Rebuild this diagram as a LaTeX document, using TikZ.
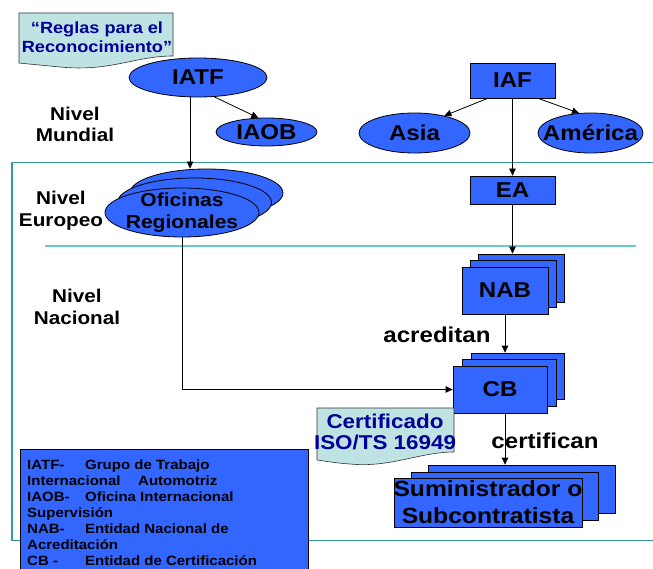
\documentclass[tikz,border=0pt]{standalone}
\usepackage{fontspec}
\setmainfont[FakeStretch=1.12]{Liberation Sans}
\usetikzlibrary{shapes.geometric,arrows.meta,calc}
\definecolor{pblue}{HTML}{3366FF}
\definecolor{plight}{HTML}{BFE3E3}
\definecolor{pnavy}{HTML}{000099}
\definecolor{tealA}{HTML}{339999}
\definecolor{tealB}{HTML}{66CCCC}
\tikzset{
  shp/.style={draw=black, line width=0.8pt, fill=pblue, inner sep=0pt},
  ell/.style={shp, shape=ellipse},
  rbox/.style={shp, shape=rectangle},
  lbl/.style={font=\bfseries\fontsize{21.5}{23}\selectfont, text=black, align=center},
  lvl/.style={font=\bfseries\fontsize{18.5}{21.5}\selectfont, align=center},
  doc/.style={draw=black!80, line width=0.6pt, fill=plight},
  doctext/.style={font=\bfseries\fontsize{16.2}{19}\selectfont, text=pnavy, align=center},
  leg/.style={font=\bfseries\fontsize{13.4}{16}\selectfont, anchor=base west, inner sep=0pt},
  arr/.style={-{Triangle[length=7pt,width=6.5pt]}, line width=0.8pt},
}
\begin{document}
\begin{tikzpicture}[x=1pt,y=-1pt]
\clip (0,0) rectangle (653,569);
\fill[white] (0,0) rectangle (653,569);
% frame and level lines
\draw[tealA, line width=1.1pt] (653,162.5) -- (12,162.5) -- (12,540.5) -- (653,540.5);
\draw[tealB, line width=2pt] (45,246.5) -- (636,246.5);
% level labels
\node[lvl] (nm) at (75,124.5) {Nivel\\Mundial};
\node[lvl] (ne) at (61,210.5) {Nivel\\Europeo};
\node[lvl] (nn) at (77,307) {Nivel\\Nacional};
% Reglas document
\path[doc] (19,13) -- (173,13) -- (173,56) .. controls (135,56) and (110,72) .. (60,67) .. controls (40,65) and (28,64) .. (19,63) -- cycle;
\node[doctext] (reglas) at (97,37) {“Reglas para el\\Reconocimiento”};
% IATF, IAOB
\node[ell, minimum width=138pt, minimum height=39pt, label={[lbl]center:IATF}] (iatf) at (198,77.5) {};
\node[ell, minimum width=101pt, minimum height=28pt, label={[lbl]center:IAOB}] (iaob) at (266.5,132) {};
% IAF, Asia, America, EA
\node[rbox, minimum width=85pt, minimum height=35pt, label={[lbl]center:IAF}] (iaf) at (512.5,80.5) {};
\node[ell, minimum width=111pt, minimum height=40pt, label={[lbl]center:Asia}] (asia) at (414.5,133) {};
\node[ell, minimum width=105pt, minimum height=40pt, label={[lbl]center:América}] (amer) at (590.5,133) {};
\node[rbox, minimum width=85pt, minimum height=28pt, label={[lbl]center:EA}] (ea) at (512.5,190) {};
% Oficinas stack
\node[ell, minimum width=153pt, minimum height=48pt] (ofi3) at (206.5,193) {};
\node[ell, minimum width=154pt, minimum height=49pt] (ofi2) at (194.5,202.5) {};
\node[ell, minimum width=154pt, minimum height=49pt, label={[lbl, font=\bfseries\fontsize{18.8}{22}\selectfont]center:Oficinas\\Regionales}] (ofi) at (182,212.5) {};
% NAB stack
\node[rbox, minimum width=86pt, minimum height=48pt] (nab3) at (521,278) {};
\node[rbox, minimum width=86pt, minimum height=47pt] (nab2) at (513,284.25) {};
\node[rbox, minimum width=86pt, minimum height=47pt, label={[lbl]center:NAB}] (nab) at (505,290.5) {};
% CB stack
\node[rbox, minimum width=93pt, minimum height=46pt] (cb3) at (517.5,376) {};
\node[rbox, minimum width=94pt, minimum height=47pt] (cb2) at (509,383) {};
\node[rbox, minimum width=94pt, minimum height=47pt, label={[lbl]center:CB}] (cb) at (500,389.5) {};
% Certificado document
\path[doc] (317,408) -- (454,408) -- (454,452) .. controls (420,452) and (390,468) .. (350,464) .. controls (335,463) and (325,461) .. (317,460) -- cycle;
\node[doctext, font=\bfseries\fontsize{20}{21}\selectfont] (cert) at (385,432) {Certificado\\ISO/TS 16949};
% Suministrador stack
\node[rbox, minimum width=187pt, minimum height=48pt] (sum3) at (521.5,489) {};
\node[rbox, minimum width=187pt, minimum height=48pt] (sum2) at (505,496) {};
\node[rbox, minimum width=188pt, minimum height=49pt, label={[lbl, font=\bfseries\fontsize{22}{27}\selectfont]center:Suministrador o\\Subcontratista}] (sum) at (488,502.5) {};
% connector labels
\node[lbl] (acr) at (437,335) {acreditan};
\node[lbl] (certif) at (545,441) {certifican};
% connectors
\draw[arr] (iatf.-50) -- (iaob.120);
\draw[arr] (iatf.-112) -- (iatf.-112 |- ofi3.north);
\draw[arr] ($(iaf.south west)!0.21!(iaf.south east)$) -- (asia.30);
\draw[arr] ($(iaf.south west)!0.8!(iaf.south east)$) -- (amer.120);
\draw[arr] (iaf.south) -- (ea.north);
\draw[arr] (ea.south) -- (ea.south |- nab3.north);
\draw[arr] (nab.south) -- (nab.south |- cb3.north);
\draw[arr] (cb.south -| nab.south) -- (nab.south |- sum3.north);
\draw[arr] (ofi.south) |- (cb.west);
% legend
\node[draw=black, line width=0.8pt, fill=pblue, minimum width=288pt, minimum height=131pt, anchor=north west, inner sep=0pt] (legend) at (20,449) {};
\node[leg] (l1) at (27,469.5) {\makebox[58pt][l]{IATF-}Grupo de Trabajo};
\node[leg] (l2) at (27,485.5) {\makebox[111pt][l]{Internacional}Automotriz};
\node[leg] (l3) at (27,501.5) {\makebox[58pt][l]{IAOB-}Oficina Internacional};
\node[leg] (l4) at (27,517.5) {Supervisión};
\node[leg] (l5) at (27,533.5) {\makebox[58pt][l]{NAB-}Entidad Nacional de};
\node[leg] (l6) at (27,549.5) {Acreditación};
\node[leg] (l7) at (27,565.5) {\makebox[58pt][l]{CB -}Entidad de Certificación};
\end{tikzpicture}
\end{document}
